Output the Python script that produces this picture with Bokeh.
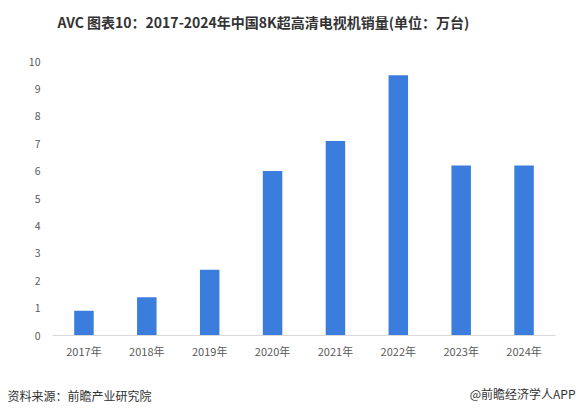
from bokeh.plotting import figure
from bokeh.models import Range1d, FactorRange, FixedTicker, Label, ColumnDataSource
from bokeh.layouts import column
from bokeh.embed import file_html
from bokeh.resources import INLINE

title_text = "AVC 图表10：2017-2024年中国8K超高清电视机销量(单位：万台)"
years = ["2017年", "2018年", "2019年", "2020年", "2021年", "2022年", "2023年", "2024年"]
sales = [0.9, 1.4, 2.4, 6.0, 7.1, 9.5, 6.2, 6.2]
y_ticks = [0, 1, 2, 3, 4, 5, 6, 7, 8, 9, 10]
source_text = "资料来源：前瞻产业研究院"
credit_text = "@前瞻经济学人APP"

CJK = "Noto Sans CJK SC"


def text_strip(height):
    s = figure(x_range=Range1d(0, 576), y_range=Range1d(height, 0),
               width=576, height=height, output_backend="svg", toolbar_location=None,
               x_axis_type=None, y_axis_type=None,
               min_border_left=0, min_border_right=0, min_border_top=0, min_border_bottom=0)
    s.frame_align = False
    s.title.visible = False
    s.outline_line_color = None
    s.xgrid.visible = False
    s.ygrid.visible = False
    s.background_fill_color = "white"
    s.border_fill_color = "white"
    return s


# header strip
h = text_strip(40)
h.add_layout(Label(x=57, y=21, text=title_text, text_font=CJK,
                   text_font_style="bold", text_font_size="14px", text_color="#333333",
                   text_baseline="middle", text_align="left"))

# main chart
p = figure(x_range=FactorRange(factors=years, range_padding=0),
           y_range=Range1d(0, 10),
           width=576, height=334,
           output_backend="svg", toolbar_location=None,
           min_border_left=52, min_border_right=21,
           min_border_top=21, min_border_bottom=39)
p.frame_align = False
p.title.visible = False
p.outline_line_color = None
p.background_fill_color = "white"
p.border_fill_color = "white"
p.xgrid.visible = False
p.ygrid.visible = False

src = ColumnDataSource(dict(year=years, sales=sales))
p.vbar(x="year", top="sales", width=0.31, source=src,
       fill_color="#3B7DDD", line_color=None)

xa = p.xaxis[0]
xa.axis_line_color = "#d9d9d9"
xa.axis_line_width = 1
xa.major_tick_line_color = None
xa.minor_tick_line_color = None
xa.major_label_text_font = CJK
xa.major_label_text_font_size = "11px"
xa.major_label_text_color = "#595959"
xa.major_label_standoff = 1

ya = p.yaxis[0]
ya.ticker = FixedTicker(ticks=y_ticks)
ya.axis_line_color = None
ya.major_tick_line_color = None
ya.minor_tick_line_color = None
ya.major_label_text_font = CJK
ya.major_label_text_font_size = "10.5px"
ya.major_label_text_color = "#595959"
ya.major_label_standoff = 6

# footer strip
f = text_strip(40)
f.add_layout(Label(x=7, y=21, text=source_text, text_font=CJK,
                   text_font_size="12px", text_color="#333333",
                   text_baseline="middle", text_align="left"))
f.add_layout(Label(x=575, y=19, text=credit_text, text_font=CJK,
                   text_font_size="12px", text_color="#333333",
                   text_baseline="middle", text_align="right"))

layout = column(h, p, f, spacing=0)
open("out.html", "w").write(file_html(layout, INLINE))
